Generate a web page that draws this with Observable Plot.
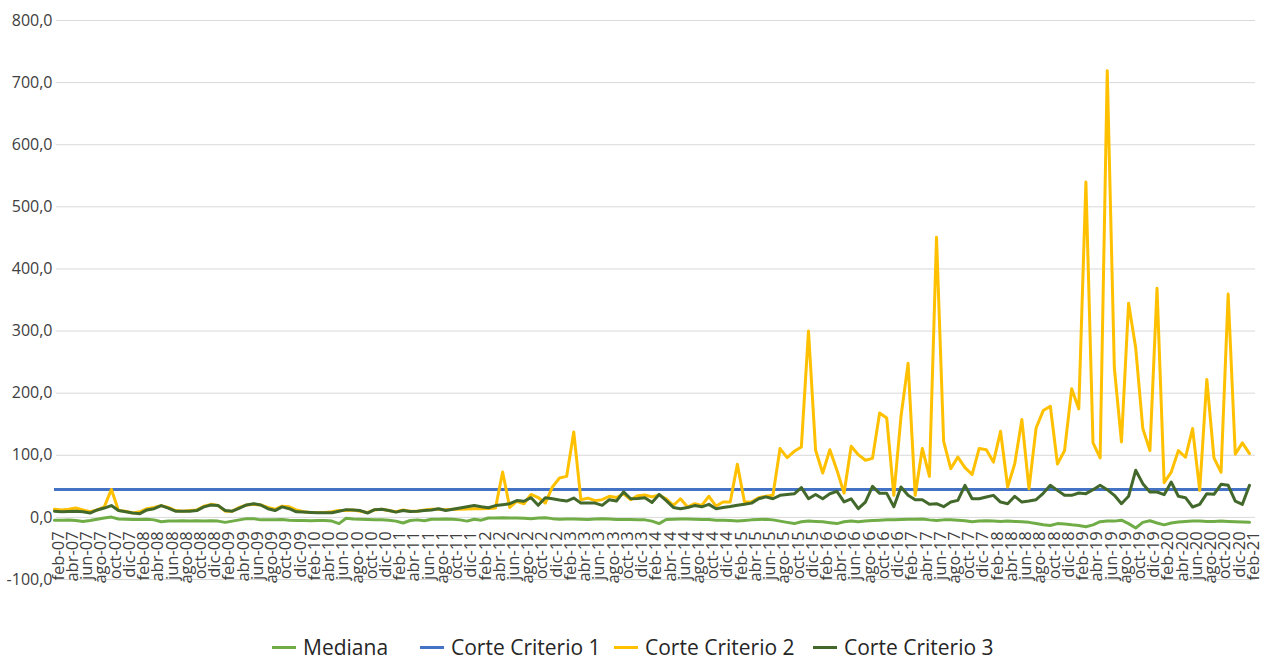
<!DOCTYPE html>
<html>
<head>
<meta charset="utf-8">
<script src="https://cdn.jsdelivr.net/npm/d3@7"></script>
<script src="https://cdn.jsdelivr.net/npm/@observablehq/plot@0.6"></script>
<style>
  html, body { margin: 0; padding: 0; background: #ffffff; }
  body { font-family: "Open Sans", sans-serif; width: 1265px; height: 660px; overflow: hidden; }
  #legend { position: relative; height: 35px; font-size: 21px; line-height: 24px; color: #262626; }
  .item { position: absolute; top: 10px; height: 24px; display: flex; align-items: center; white-space: nowrap; }
  .sw { width: 24px; height: 3px; margin-right: 7px; }
</style>
</head>
<body>
<div id="chart"></div>
<div id="legend"></div>
<script>
// Category labels (Spanish month abbreviations), feb-07 .. feb-21
const monthNames = ["ene","feb","mar","abr","may","jun","jul","ago","sep","oct","nov","dic"];
const firstYear = 2007, firstMonth = 1, lastYear = 2021, lastMonth = 1;
const months = [];
for (let y = firstYear; y <= lastYear; y++) {
  for (let m = 0; m < 12; m++) {
    if (y === firstYear && m < firstMonth) continue;
    if (y === lastYear && m > lastMonth) break;
    months.push(monthNames[m] + "-" + String(y % 100).padStart(2, "0"));
  }
}

const seriesNames = ["Mediana", "Corte Criterio 1", "Corte Criterio 2", "Corte Criterio 3"];
const seriesColors = ["#70AD47", "#4472C4", "#FFC000", "#43682B"];
const legendLeft = [272, 420, 614, 813];

const mediana = [
  -4.8, -4.5, -4.3, -5, -6.5, -5, -3, -1, 0.5, -2.5,
  -3, -3.5, -3.5, -3, -4, -7, -6, -6, -5.5, -6,
  -5.5, -6, -5.5, -6, -8, -6, -4, -2, -2, -4,
  -4, -4, -3.5, -4.5, -5, -5, -5.5, -5, -5, -6,
  -10, -1.5, -2.5, -3, -3.5, -4, -4, -4.5, -6, -9,
  -5, -4, -5.5, -3, -3, -2.5, -3, -4, -6, -3,
  -4.5, -1, -1, -0.5, -1, -1, -1.5, -2, -1, -0.5,
  -2, -3, -2.5, -2.5, -3, -3.5, -2.5, -2, -2.5, -3.5,
  -3.5, -3.5, -4, -4, -6, -10, -3.5, -3, -2.5, -2.5,
  -3, -3.5, -3.5, -4.5, -4.5, -5, -6, -5, -4, -3.5,
  -3, -4, -6, -8, -10, -7, -6, -6.5, -7, -8.5,
  -10, -7, -6, -7, -6, -5, -4.5, -4, -4, -3.5,
  -3, -3, -2.5, -4, -5, -4, -4, -4.5, -5.5, -7,
  -6, -5.5, -6, -6.5, -6, -6.5, -7, -8, -10, -12,
  -13, -10, -10.5, -12, -13, -15, -12, -7, -6, -6,
  -4.5, -10, -17, -8, -5.5, -9, -12, -9, -7.5, -6.5,
  -6, -6, -6.5, -6.5, -6, -6.5, -7, -7.5, -8
];

const corteCriterio1 = 45;

const corteCriterio2 = [
  13, 12, 13, 15, 12, 9, 12, 17, 45, 11,
  10, 7, 9, 14, 16, 19, 16, 11, 10, 11,
  12, 18, 21, 19, 10, 10, 16, 20, 21, 20,
  16, 13, 18, 17, 12, 9, 8, 8, 8, 9,
  11, 11, 12, 10, 8, 12, 13, 11, 9, 12,
  10, 10, 12, 13, 13, 12.5, 13, 13, 13.5, 14,
  14, 14.5, 15, 73, 16, 26, 22, 37, 32, 23,
  49, 63.5, 66, 137.6, 28.5, 31, 27, 28.5, 34, 32,
  38, 28.5, 35, 36, 33, 36, 30, 19.4, 30, 16.7,
  22, 19.4, 34, 18.3, 24.7, 24.7, 85.5, 24.7, 25, 31.7,
  34, 35.5, 110.8, 96.2, 106.4, 113.4, 300, 108, 71.5, 109,
  76, 39, 114.5, 101, 92, 95, 168, 160, 35.5, 162,
  248, 35.5, 111, 66, 451, 122.5, 78.5, 97, 80, 69,
  111, 109, 89, 138.6, 49, 86.6, 157.5, 46, 144, 172,
  179, 86, 107.5, 207, 174.7, 540, 120, 95.7, 719, 240.6,
  121.5, 344.6, 273, 143, 107.5, 368.8, 55.9, 73, 107.5, 96.8,
  143, 43.5, 222, 95.7, 72.6, 359.7, 101.6, 119.9, 102.7
];

const corteCriterio3 = [
  10, 9, 9.5, 10, 9, 7, 12, 15, 19, 11,
  9, 7, 6, 12, 14, 19, 15, 10, 10, 10,
  11, 17, 20, 19, 11, 10, 15, 20, 22, 20,
  14, 11, 17, 14, 9, 8.5, 8, 7.5, 7.5, 7.5,
  10, 12.5, 12, 11, 7, 12.5, 13, 11, 8.5, 11,
  9.5, 10, 11, 12, 14, 11, 13, 15, 17, 19,
  17, 15.6, 19, 20.5, 22, 27, 26, 31.7, 19.4, 31.7,
  30, 28, 26.3, 31.2, 23, 23, 23, 19.4, 28.5, 26.3,
  41, 30, 30.5, 31.7, 24, 37, 27, 16, 14, 16,
  19, 17, 21, 14, 16, 17.5, 19.5, 21, 23, 30,
  33, 30, 35.5, 37, 38, 48, 30, 37, 30, 38,
  42, 25, 30, 14, 24.7, 50, 38.7, 38.7, 17.2, 48.9,
  35.5, 28.5, 28.5, 21, 22, 17.2, 24.7, 27.4, 51.6, 30,
  30, 32.8, 35.5, 24.7, 22, 33.9, 24.7, 26.3, 28.5, 38.7,
  51.6, 43.5, 35.5, 35.5, 39.2, 38.2, 44.6, 51.6, 44.6, 35.5,
  22, 34, 75.8, 54.3, 40.9, 40.9, 36.6, 56.9, 34, 31.7,
  16.7, 21, 38.2, 37.1, 53.2, 51.6, 26.3, 21, 51.6
];

const yTicks = [-100, 0, 100, 200, 300, 400, 500, 600, 700, 800];

const table = months.map((m, i) => ({
  i,
  month: m,
  mediana: mediana[i],
  c2: corteCriterio2[i],
  c3: corteCriterio3[i]
}));
const xTicks = table.filter(d => d.i % 2 === 0);
const lastIndex = months.length - 1;

const fmt = d => d.toFixed(1).replace(".", ",");

const chart = Plot.plot({
  width: 1265,
  height: 625,
  marginLeft: 54,
  marginRight: 16,
  marginTop: 20,
  marginBottom: 46,
  style: { fontFamily: "Open Sans, sans-serif", color: "#404040", background: "#ffffff" },
  x: { type: "linear", domain: [0, lastIndex], range: [54, 1249], axis: null },
  y: { domain: [-100, 800], range: [579, 20] },
  marks: [
    Plot.ruleY(yTicks, { stroke: "#d9d9d9", strokeWidth: 1, insetLeft: 2, insetRight: -6 }),
    Plot.axisY(yTicks, { tickFormat: fmt, tickSize: 0, tickPadding: 2, fontSize: 16, fill: "#404040", label: null }),
    Plot.line(table, { x: "i", y: "mediana", stroke: seriesColors[0], strokeWidth: 3 }),
    Plot.ruleY([corteCriterio1], { x1: () => 0, x2: () => lastIndex, stroke: seriesColors[1], strokeWidth: 3 }),
    Plot.line(table, { x: "i", y: "c2", stroke: seriesColors[2], strokeWidth: 3 }),
    Plot.line(table, { x: "i", y: "c3", stroke: seriesColors[3], strokeWidth: 3 }),
    Plot.text(xTicks, { x: "i", y: () => 0, text: "month", rotate: -90, textAnchor: "end", dx: 4, dy: 14, fontSize: 16.5, fill: "#404040" })
  ]
});
document.getElementById("chart").appendChild(chart);

const legend = document.getElementById("legend");
seriesNames.forEach((name, i) => {
  const item = document.createElement("div");
  item.className = "item";
  item.style.left = legendLeft[i] + "px";
  const sw = document.createElement("div");
  sw.className = "sw";
  sw.style.background = seriesColors[i];
  const label = document.createElement("span");
  label.textContent = name;
  item.appendChild(sw);
  item.appendChild(label);
  legend.appendChild(item);
});
</script>
</body>
</html>
